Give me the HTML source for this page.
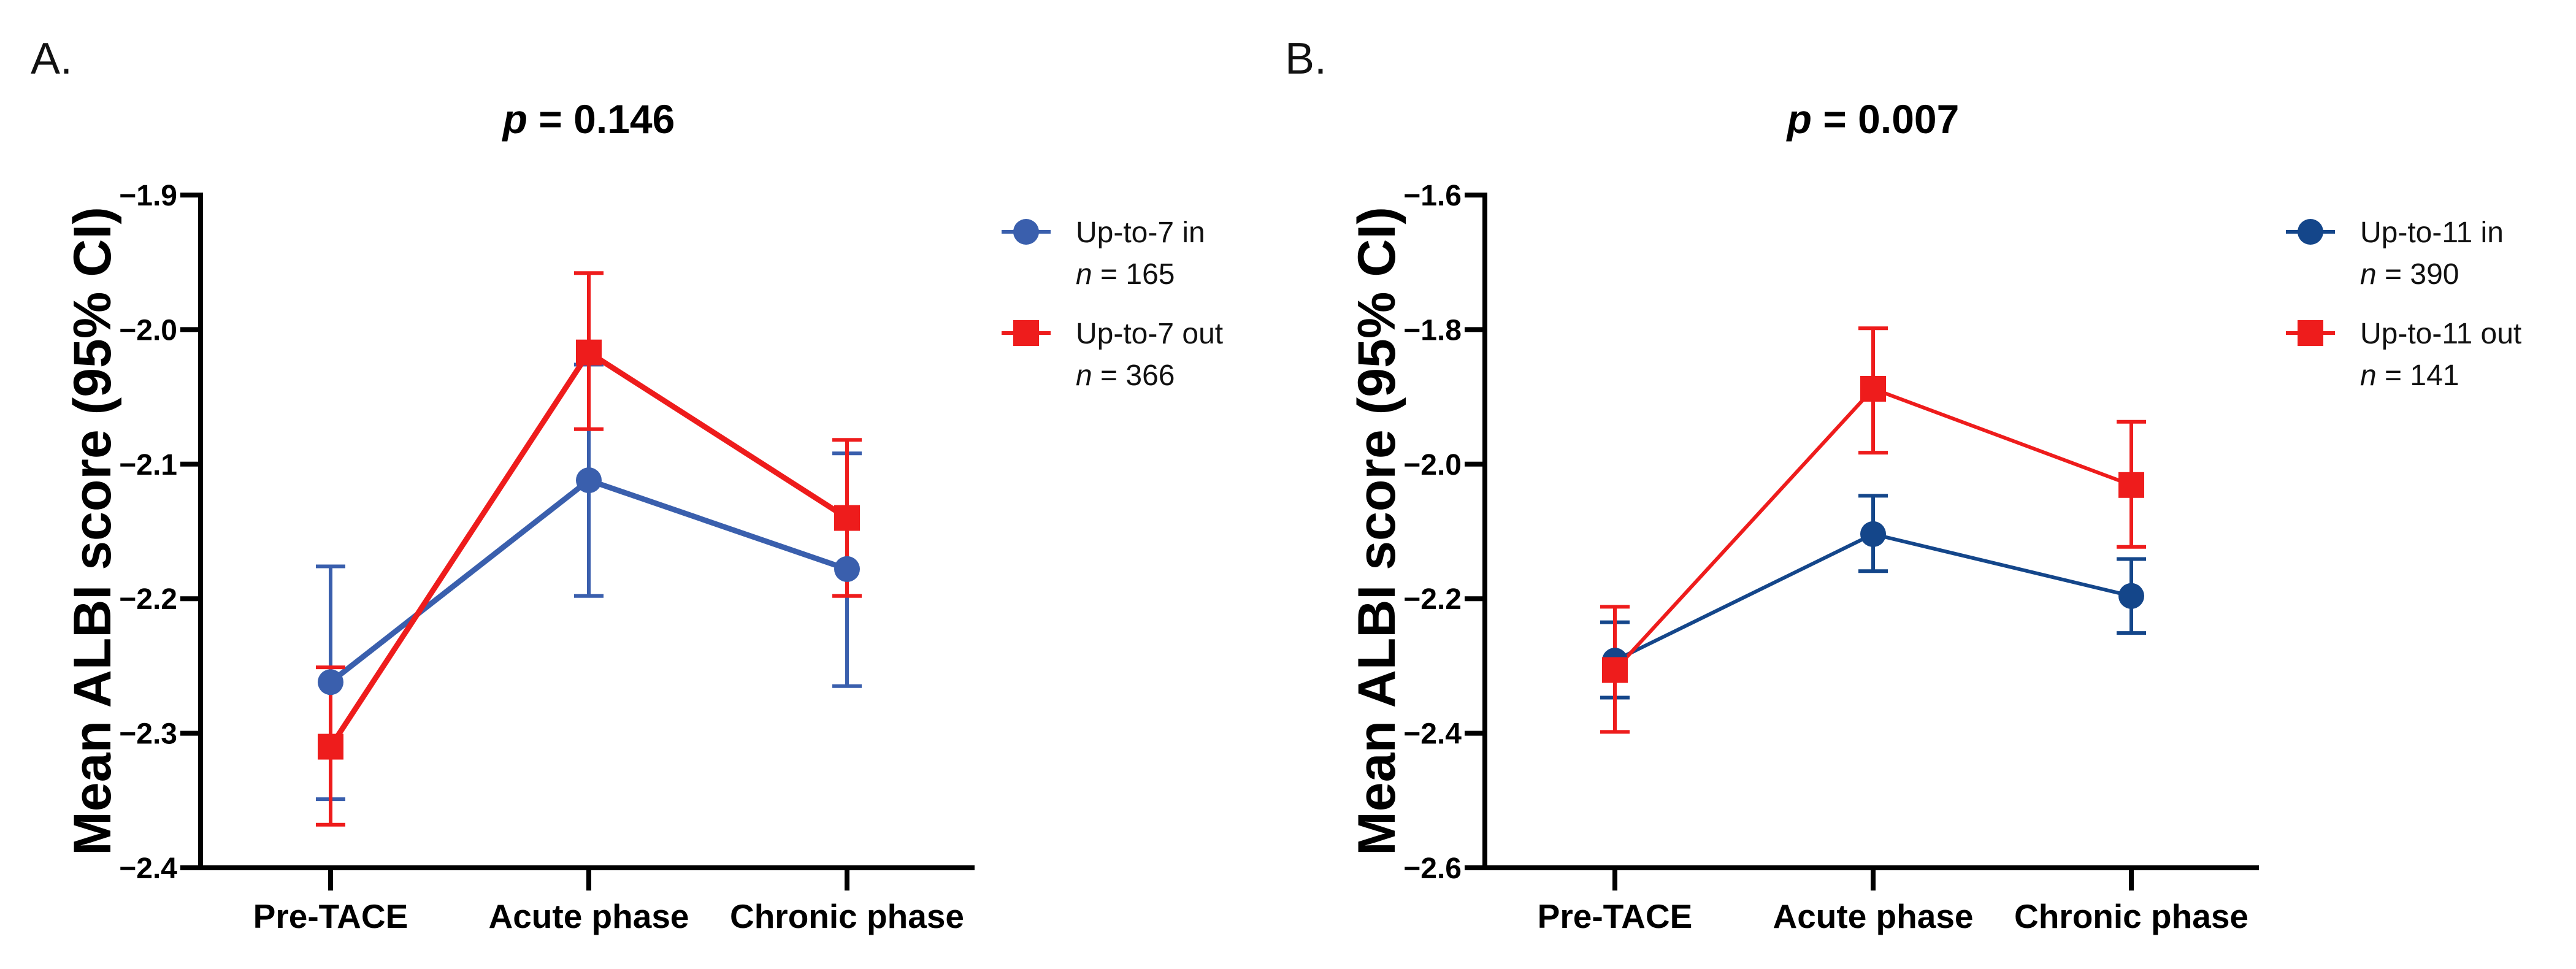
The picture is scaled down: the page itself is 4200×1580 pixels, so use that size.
<!DOCTYPE html>
<html><head><meta charset="utf-8"><style>
html,body{margin:0;padding:0;background:#fff;}
svg{display:block;font-family:"Liberation Sans",Arial,sans-serif;}
</style></head><body>
<svg id="fig" width="4200" height="1580" viewBox="0 0 4200 1580" xmlns="http://www.w3.org/2000/svg"></svg>
<script>
const categories = ["Pre-TACE","Acute phase","Chronic phase"];
// Panel A
const aInMean = [-2.262,-2.112,-2.178];
const aInLo = [-2.349,-2.198,-2.265];
const aInHi = [-2.176,-2.026,-2.092];
const aOutMean = [-2.310,-2.017,-2.140];
const aOutLo = [-2.368,-2.074,-2.198];
const aOutHi = [-2.251,-1.958,-2.082];
const aTicks = [-1.9,-2.0,-2.1,-2.2,-2.3,-2.4];
const aTickLabels = ["\u22121.9","\u22122.0","\u22122.1","\u22122.2","\u22122.3","\u22122.4"];
// Panel B
const bInMean = [-2.292,-2.104,-2.196];
const bInLo = [-2.347,-2.159,-2.251];
const bInHi = [-2.235,-2.047,-2.141];
const bOutMean = [-2.306,-1.888,-2.031];
const bOutLo = [-2.398,-1.983,-2.123];
const bOutHi = [-2.212,-1.798,-1.937];
const bTicks = [-1.6,-1.8,-2.0,-2.2,-2.4,-2.6];
const bTickLabels = ["\u22121.6","\u22121.8","\u22122.0","\u22122.2","\u22122.4","\u22122.6"];

const NS="http://www.w3.org/2000/svg";
const svg=document.getElementById('fig');
function mk(tag,attrs,parent,text){const e=document.createElementNS(NS,tag);for(const k in attrs)e.setAttribute(k,attrs[k]);if(text!==undefined)e.textContent=text;(parent||svg).appendChild(e);return e;}

function panel(o){
  const g=mk('g',{});
  
  
  const x0=o.axisX, xEnd=o.axisX+1262, yTop=318, yBot=1415;
  const y=v=>yTop+(o.ymax-v)/(o.ymax-o.ymin)*(yBot-yTop);
  const x=i=>o.axisX+212+i*421;
  const lab=mk('text',{x:o.labX,y:120,'font-size':72,fill:'#111'},g,o.letter);
  
  
  const t=mk('text',{x:x(1),y:217,'font-size':66,'font-weight':'bold','text-anchor':'middle',fill:'#000'},g);
  
  
  mk('tspan',{'font-style':'italic'},t,'p');
  mk('tspan',{},t,' = '+o.p);
  const yt=mk('text',{x:0,y:0,'font-size':86,'font-weight':'bold','text-anchor':'middle',transform:`translate(${o.axisX-147},866) rotate(-90)`},g,'Mean ALBI score (95% CI)');
  
  
  const ya=mk('line',{x1:x0,y1:yTop-4,x2:x0,y2:yBot+4,stroke:'#000','stroke-width':8},g);
  
  
  const xa=mk('line',{x1:x0-4,y1:yBot,x2:xEnd,y2:yBot,stroke:'#000','stroke-width':8},g);
  
  
  o.ticks.forEach((v,i)=>{
    mk('line',{x1:x0-33,y1:y(v),x2:x0,y2:y(v),stroke:'#000','stroke-width':8},g);
    const tl=mk('text',{x:x0-38,y:y(v)+17,'font-size':48,'font-weight':'bold','text-anchor':'end'},g,o.tickLabels[i]);
    
    
  });
  categories.forEach((c,i)=>{
    mk('line',{x1:x(i),y1:yBot,x2:x(i),y2:yBot+37,stroke:'#000','stroke-width':8},g);
    const cl=mk('text',{x:x(i),y:1513,'font-size':55,'font-weight':'bold','text-anchor':'middle'},g,c);
    
    
  });
  const series=[
    {m:o.inMean,lo:o.inLo,hi:o.inHi,col:o.blue,shape:'circle',name:'series-in'},
    {m:o.outMean,lo:o.outLo,hi:o.outHi,col:'#ee1c1c',shape:'square',name:'series-out'}];
  series.forEach(s=>{
    const sg=mk('g',{},g);
    
    
    s.m.forEach((v,i)=>{
      mk('line',{x1:x(i),y1:y(s.lo[i]),x2:x(i),y2:y(s.hi[i]),stroke:s.col,'stroke-width':6},sg);
      mk('line',{x1:x(i)-24,y1:y(s.lo[i]),x2:x(i)+24,y2:y(s.lo[i]),stroke:s.col,'stroke-width':6},sg);
      mk('line',{x1:x(i)-24,y1:y(s.hi[i]),x2:x(i)+24,y2:y(s.hi[i]),stroke:s.col,'stroke-width':6},sg);
    });
    const pts=s.m.map((v,i)=>x(i)+','+y(v)).join(' ');
    mk('polyline',{points:pts,fill:'none',stroke:s.col,'stroke-width':o.lw},sg);
  });
  series.forEach(s=>{
    s.m.forEach((v,i)=>{
      let e;
      if(s.shape==='circle') e=mk('circle',{cx:x(i),cy:y(v),r:21,fill:s.col},g);
      else e=mk('rect',{x:x(i)-21,y:y(v)-21,width:42,height:42,fill:s.col},g);
      
      
    });
  });
  const lx=o.axisX+1346;
  const leg=[{col:o.blue,shape:'circle',t1:o.l1,t2:o.n1,y:378},{col:'#ee1c1c',shape:'square',t1:o.l2,t2:o.n2,y:543}];
  leg.forEach(L=>{
    const lg=mk('g',{},g);
    
    
    mk('line',{x1:lx-40,y1:L.y,x2:lx+40,y2:L.y,stroke:L.col,'stroke-width':6},lg);
    if(L.shape==='circle') mk('circle',{cx:lx,cy:L.y,r:21,fill:L.col},lg);
    else mk('rect',{x:lx-21,y:L.y-21,width:42,height:42,fill:L.col},lg);
    mk('text',{x:lx+81,y:L.y+17,'font-size':48,fill:'#111'},lg,L.t1);
    const n=mk('text',{x:lx+81,y:L.y+85,'font-size':48,fill:'#111'},lg);
    mk('tspan',{'font-style':'italic'},n,'n');
    mk('tspan',{},n,' = '+L.t2);
  });
}
panel({name:'panel-a',letter:'A.',labX:50,axisX:327,ymax:-1.9,ymin:-2.4,ticks:aTicks,tickLabels:aTickLabels,p:'0.146',
  inMean:aInMean,inLo:aInLo,inHi:aInHi,outMean:aOutMean,outLo:aOutLo,outHi:aOutHi,blue:'#3a5fad',lw:9,
  l1:'Up-to-7 in',n1:'165',l2:'Up-to-7 out',n2:'366'});
panel({name:'panel-b',letter:'B.',labX:2095,axisX:2421,ymax:-1.6,ymin:-2.6,ticks:bTicks,tickLabels:bTickLabels,p:'0.007',
  inMean:bInMean,inLo:bInLo,inHi:bInHi,outMean:bOutMean,outLo:bOutLo,outHi:bOutHi,blue:'#14468a',lw:6,
  l1:'Up-to-11 in',n1:'390',l2:'Up-to-11 out',n2:'141'});
</script>
</body></html>
